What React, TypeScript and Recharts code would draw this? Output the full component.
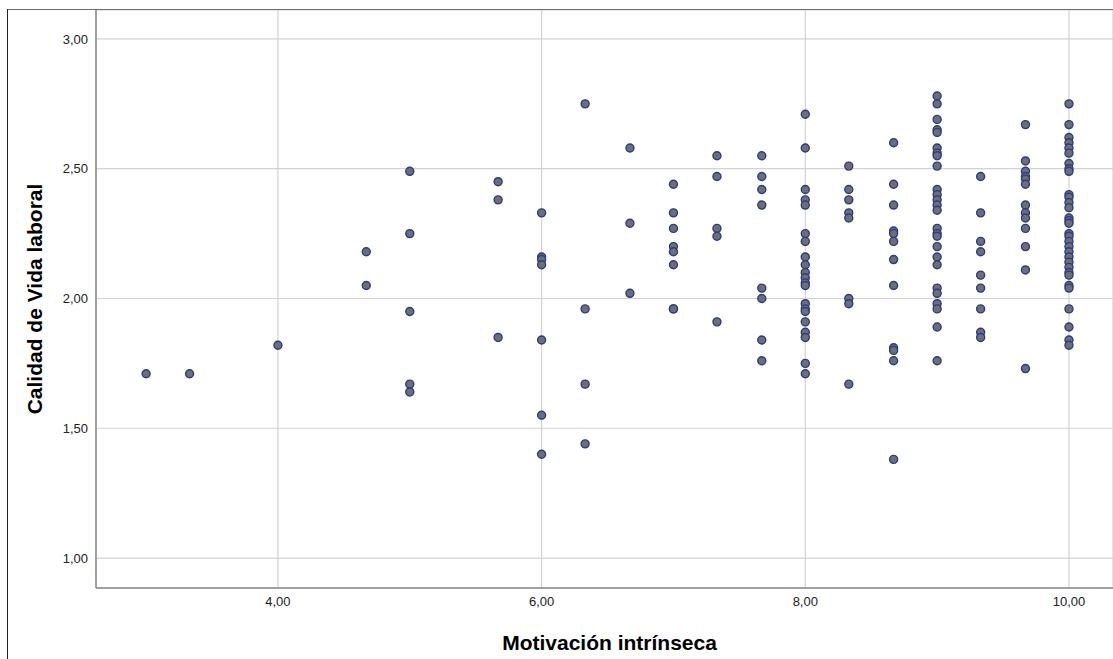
import { CartesianGrid, Scatter, ScatterChart, XAxis, YAxis } from "recharts";

// Motivación intrínseca levels (x) and Calidad de Vida laboral values at each level (y)
const motivacion = [3, 3.33, 4, 4.67, 5, 5.67, 6, 6.33, 6.67, 7, 7.33, 7.67, 8, 8.33, 8.67, 9, 9.33, 9.67, 10];

const calidad: number[][] = [
  [1.71],
  [1.71],
  [1.82],
  [2.18, 2.05],
  [2.49, 2.25, 1.95, 1.67, 1.64],
  [2.45, 2.38, 1.85],
  [2.33, 2.16, 2.15, 2.13, 1.84, 1.55, 1.4],
  [2.75, 1.96, 1.67, 1.44],
  [2.58, 2.29, 2.02],
  [2.44, 2.33, 2.27, 2.2, 2.18, 2.13, 1.96, 1.96],
  [2.55, 2.47, 2.27, 2.24, 1.91],
  [2.55, 2.47, 2.42, 2.36, 2.04, 2.0, 1.84, 1.76],
  [2.71, 2.58, 2.42, 2.38, 2.36, 2.25, 2.22, 2.16, 2.13, 2.1, 2.08, 2.06, 2.05, 1.98, 1.96, 1.95, 1.91, 1.87, 1.85, 1.75, 1.71],
  [2.51, 2.42, 2.38, 2.33, 2.31, 2.0, 1.98, 1.67],
  [2.6, 2.44, 2.36, 2.26, 2.25, 2.22, 2.15, 2.05, 1.81, 1.8, 1.76, 1.38],
  [2.78, 2.75, 2.69, 2.65, 2.64, 2.58, 2.56, 2.55, 2.51, 2.42, 2.4, 2.38, 2.36, 2.34, 2.27, 2.25, 2.24, 2.2, 2.16, 2.13, 2.04, 2.02, 1.98, 1.96, 1.89, 1.76],
  [2.47, 2.33, 2.22, 2.18, 2.09, 2.04, 1.96, 1.87, 1.85],
  [2.67, 2.53, 2.49, 2.47, 2.46, 2.44, 2.36, 2.33, 2.31, 2.27, 2.2, 2.11, 1.73],
  [2.75, 2.67, 2.62, 2.6, 2.58, 2.56, 2.52, 2.5, 2.49, 2.4, 2.39, 2.37, 2.35, 2.31, 2.3, 2.29, 2.25, 2.24, 2.22, 2.2, 2.18, 2.16, 2.14, 2.12, 2.1, 2.09, 2.05, 2.04, 1.96, 1.89, 1.84, 1.82],
];

const xTicks = [4, 6, 8, 10];
const yTicks = [1, 1.5, 2, 2.5, 3];

const points = motivacion.flatMap((m, i) => calidad[i].map((c) => ({ x: m, y: c })));

const fmt = (v: number) => v.toFixed(2).replace(".", ",");
const font = "'Liberation Sans', Arial, sans-serif";

const Dot = (p: any) => <circle cx={p.cx} cy={p.cy} r={4} fill="#6f6f6f" stroke="#2a3a8c" strokeWidth={1.4} />;

export default function App() {
  return (
    <div style={{ position: "absolute", left: 0, top: 0, width: 1113, height: 659, background: "#fff", fontFamily: font }}>
      <ScatterChart width={1113} height={659} margin={{ top: 10, right: 0, bottom: 0, left: 0 }}>
        <CartesianGrid stroke="#d2d2d2" strokeWidth={1.2} />
        <XAxis
          type="number"
          dataKey="x"
          domain={[2.62, 10.334]}
          ticks={xTicks}
          allowDataOverflow
          height={71}
          tickFormatter={fmt}
          tickLine={false}
          tickMargin={3}
          axisLine={{ stroke: "#8a8a8a", strokeWidth: 1.5 }}
          tick={{ fontSize: 13, fill: "#222", fontFamily: font }}
          label={{ value: "Motivación intrínseca", position: "insideBottom", offset: 9, dx: 5, style: { fontSize: 21, fontWeight: "bold", fill: "#000", fontFamily: font } }}
        />
        <YAxis
          type="number"
          dataKey="y"
          domain={[0.8846, 3.1115]}
          ticks={yTicks}
          allowDataOverflow
          width={96}
          tickFormatter={fmt}
          tickLine={false}
          axisLine={{ stroke: "#8a8a8a", strokeWidth: 1.5 }}
          tick={{ fontSize: 13, fill: "#222", fontFamily: font }}
          label={{ value: "Calidad de Vida laboral", angle: -90, position: "insideLeft", offset: 35, style: { textAnchor: "middle", fontSize: 21, fontWeight: "bold", fill: "#000", fontFamily: font } }}
        />
        <Scatter data={points} shape={Dot} isAnimationActive={false} />
      </ScatterChart>
      <div style={{ position: "absolute", left: 8, top: 9, width: 1105, height: 0, borderTop: "1.5px solid #6e6e6e" }} />
      <div style={{ position: "absolute", left: 7, top: 9, width: 0, height: 650, borderLeft: "1.5px solid #222" }} />
    </div>
  );
}
